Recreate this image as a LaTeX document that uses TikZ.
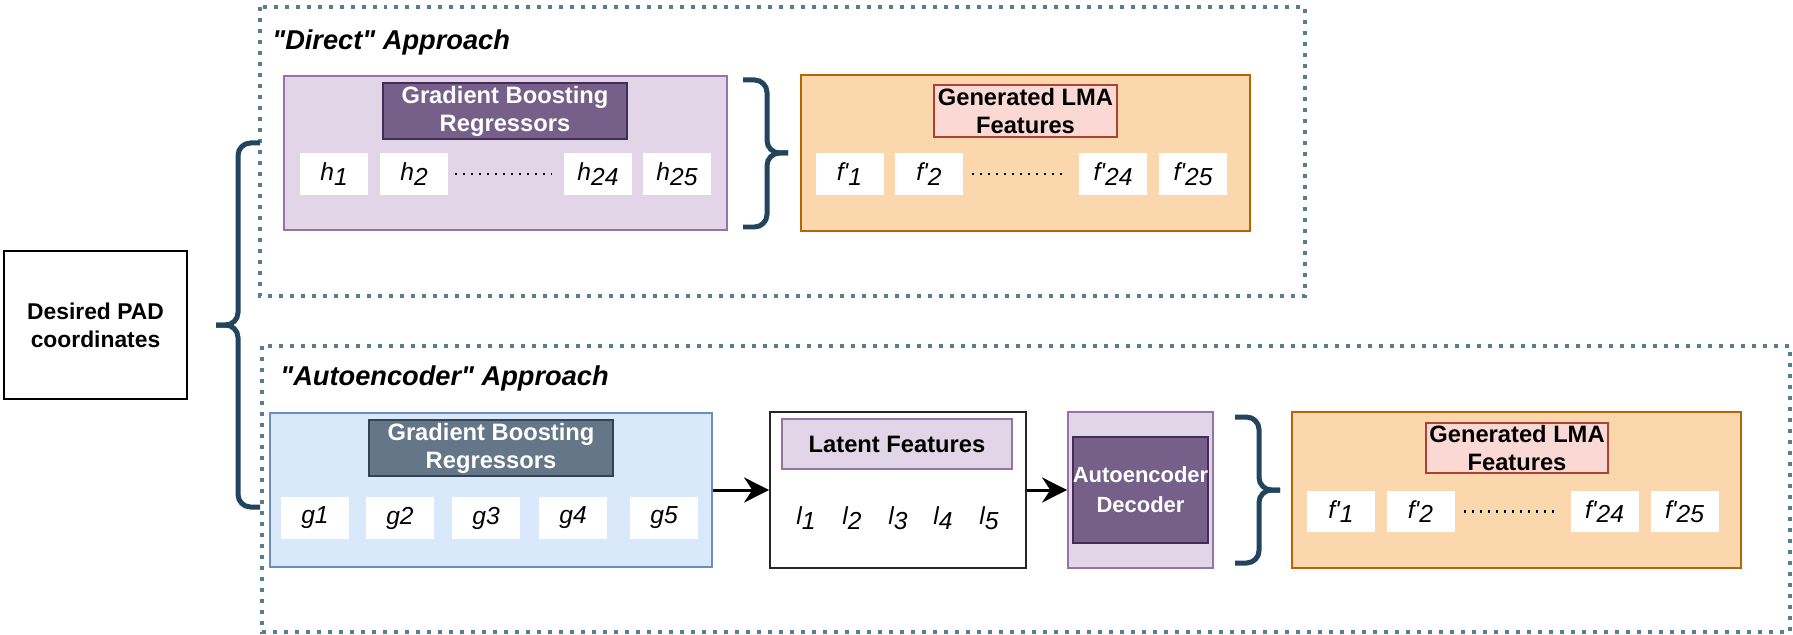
\documentclass[tikz,border=0pt]{standalone}
\usepackage{fontspec}
\setmainfont{Liberation Sans}
\usetikzlibrary{arrows.meta, positioning, calc}
\definecolor{color1}{RGB}{225,213,231}
\definecolor{color2}{RGB}{150,115,166}
\definecolor{color3}{RGB}{118,96,138}
\definecolor{color4}{RGB}{67,45,87}
\definecolor{color5}{RGB}{218,232,252}
\definecolor{color6}{RGB}{108,142,191}
\definecolor{color7}{RGB}{100,118,135}
\definecolor{color8}{RGB}{49,67,84}
\definecolor{color9}{RGB}{250,215,172}
\definecolor{color10}{RGB}{180,101,4}
\definecolor{color11}{RGB}{250,217,213}
\definecolor{color12}{RGB}{174,65,50}
\definecolor{color13}{RGB}{35,68,93}
\definecolor{color14}{RGB}{88,126,140}
\newcommand{\idx}[1]{\raisebox{-0.35ex}{#1}}

\begin{document}
\begin{tikzpicture}[x=0.02cm,y=-0.02cm,
    panel/.style={draw,line width=1pt,inner sep=0pt},
    cell/.style={fill=white,minimum width=1.36cm,minimum height=0.84cm,inner sep=0pt,font=\fontsize{14}{16}\selectfont\itshape},
    title/.style={font=\fontsize{13.5}{16}\selectfont\bfseries,align=center,inner sep=0pt},
    group/.style={draw=color14,line width=0.08cm,dash pattern=on 0.08cm off 0.14cm},
    brace/.style={draw=color13,line width=0.1cm,rounded corners=0.25cm},
    approach/.style={font=\fontsize{15.5}{18}\selectfont\bfseries\itshape,anchor=west,inner sep=0pt},
    dots/.style={line width=0.045cm,dash pattern=on 0.04cm off 0.12cm},
    flow/.style={line width=0.06cm,-{Stealth[length=0.5cm,width=0.5cm]}}]
    \useasboundingbox (0,0) rectangle (1793,635);

    \node[panel,line width=1.2pt,minimum width=3.66cm,minimum height=2.96cm,title,font=\fontsize{13}{16}\selectfont\bfseries] (pad) at (95.5,325) {Desired PAD\\coordinates};

    % direct approach
    \draw[group] (260,7) rectangle (1305,296);
    \node[approach] (direct) at (272,42) {\textquotedbl Direct\textquotedbl{} Approach};
    \node[panel,fill=color1,draw=color2,minimum width=8.86cm,minimum height=3.08cm] (hbox) at (505.5,153) {};
    \node[panel,fill=color3,draw=color4,minimum width=4.88cm,minimum height=1.12cm,title,text=white] (hname) at (505,111) {Gradient Boosting\\Regressors};
    \node[cell] (h1) at (334,174) {h\idx{1}};
    \node[cell] (h2) at (414,174) {h\idx{2}};
    \node[cell] (h24) at (598,174) {h\idx{24}};
    \node[cell] (h25) at (677,174) {h\idx{25}};
    \draw[dots] ([xshift=0.14cm]h2.east) -- ([xshift=-0.24cm]h24.west);

    \draw[brace] (743,80) -- (767,80) -- (767,153) -- (788,153);
    \draw[brace] (788,153) -- (767,153) -- (767,227) -- (743,227);

    \node[panel,line width=1.6pt,fill=color9,draw=color10,minimum width=8.98cm,minimum height=3.12cm] (fbox) at (1025.5,153) {};
    \node[panel,fill=color11,draw=color12,minimum width=3.66cm,minimum height=1.04cm,title] (fname) at (1025.5,111) {Generated LMA\\Features};
    \node[cell] (f1) at (849.5,174) {f\textquotesingle\idx{1}};
    \node[cell] (f2) at (929,174) {f\textquotesingle\idx{2}};
    \node[cell] (f24) at (1113,174) {f\textquotesingle\idx{24}};
    \node[cell] (f25) at (1193,174) {f\textquotesingle\idx{25}};
    \draw[dots] ([xshift=0.18cm]f2.east) -- ([xshift=-0.24cm]f24.west);

    % autoencoder approach
    \draw[group] (262,346) rectangle (1790,632);
    \node[approach] (auto) at (280,378) {\textquotedbl Autoencoder\textquotedbl{} Approach};
    \node[panel,fill=color5,draw=color6,minimum width=8.84cm,minimum height=3.08cm] (gbox) at (491,490) {};
    \node[panel,fill=color7,draw=color8,minimum width=4.88cm,minimum height=1.12cm,title,text=white] (gname) at (491,448) {Gradient Boosting\\Regressors};
    \foreach \i/\x in {1/315,2/400,3/486,4/573,5/664}
        \node[cell] (g\i) at (\x,518) {g\i};

    \node[panel,draw=black!85,minimum width=5.12cm,minimum height=3.12cm] (latent) at (898,490) {};
    \node[panel,fill=color1,draw=color2,minimum width=4.6cm,minimum height=1.0cm,title] (lname) at (897,444) {Latent Features};
    \foreach \i/\x in {1/806,2/852,3/898,4/943,5/989}
        \node[inner sep=0pt,font=\fontsize{14}{16}\selectfont\itshape] (l\i) at (\x,518) {l\idx{\i}};

    \node[panel,fill=color1,draw=color2,minimum width=2.9cm,minimum height=3.12cm] (decoder) at (1140.5,490) {};
    \node[panel,fill=color3,draw=color4,minimum width=2.62cm,minimum height=2.12cm,title,text=white,font=\fontsize{12.5}{17}\selectfont\bfseries] (dname) at (1140.5,490) {Autoencoder\\Decoder};

    \draw[brace] (1235,417) -- (1259,417) -- (1259,490) -- (1280,490);
    \draw[brace] (1280,490) -- (1259,490) -- (1259,563) -- (1235,563);

    \node[panel,line width=1.6pt,fill=color9,draw=color10,minimum width=8.98cm,minimum height=3.12cm] (obox) at (1516.5,490) {};
    \node[panel,fill=color11,draw=color12,minimum width=3.64cm,minimum height=1.0cm,title] (oname) at (1517,448) {Generated LMA\\Features};
    \node[cell] (o1) at (1341,511.5) {f\textquotesingle\idx{1}};
    \node[cell] (o2) at (1420.5,511.5) {f\textquotesingle\idx{2}};
    \node[cell] (o24) at (1604.5,511.5) {f\textquotesingle\idx{24}};
    \node[cell] (o25) at (1684.5,511.5) {f\textquotesingle\idx{25}};
    \draw[dots] ([xshift=0.18cm]o2.east) -- ([xshift=-0.24cm]o24.west);

    \draw[flow] (gbox) -- (latent);
    \draw[flow] (latent) -- (decoder);

    \draw[brace] (260,143) -- (238,143) -- (238,325) -- (216,325);
    \draw[brace] (216,325) -- (238,325) -- (238,507) -- (260,507);
\end{tikzpicture}
\end{document}
